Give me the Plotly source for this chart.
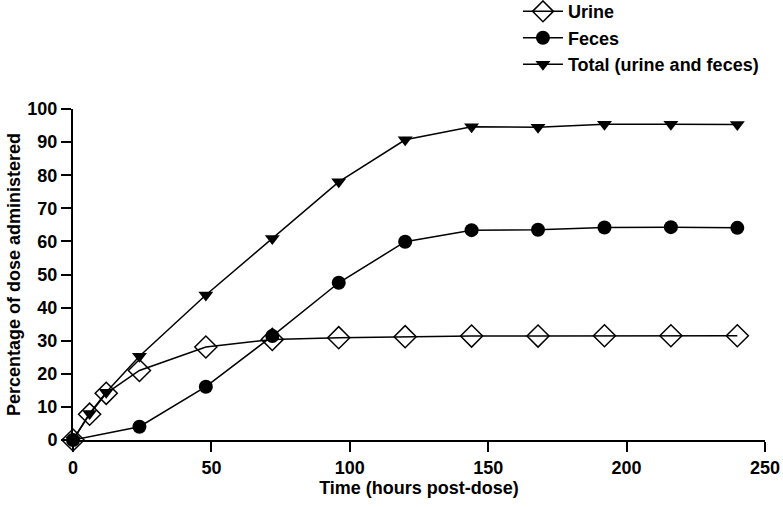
import plotly.graph_objects as go

time_urine = [0, 6, 12, 24, 48, 72, 96, 120, 144, 168, 192, 216, 240]
urine = [0, 7.8, 14.1, 21.0, 28.1, 30.4, 30.9, 31.2, 31.4, 31.4, 31.5, 31.5, 31.5]

time_feces = [0, 24, 48, 72, 96, 120, 144, 168, 192, 216, 240]
feces = [0, 4.0, 16.1, 31.4, 47.5, 59.9, 63.4, 63.5, 64.2, 64.3, 64.1]

time_total = [0, 6, 12, 24, 48, 72, 96, 120, 144, 168, 192, 216, 240]
total = [0, 8.0, 14.4, 25.3, 43.8, 60.9, 78.0, 90.7, 94.6, 94.5, 95.4, 95.4, 95.3]

x_ticks = [0, 50, 100, 150, 200, 250]
y_ticks = [0, 10, 20, 30, 40, 50, 60, 70, 80, 90, 100]

FONT = "Liberation Sans, Arial, sans-serif"

fig = go.Figure()
fig.add_trace(go.Scatter(
    x=time_urine, y=urine, name="Urine", mode="lines+markers",
    line=dict(color="black", width=1.5),
    marker=dict(symbol="diamond-open", size=17, color="black", line=dict(width=1.5)),
    cliponaxis=False))
fig.add_trace(go.Scatter(
    x=time_feces, y=feces, name="Feces", mode="lines+markers",
    line=dict(color="black", width=1.5),
    marker=dict(symbol="circle", size=14, color="black"),
    cliponaxis=False))
fig.add_trace(go.Scatter(
    x=time_total, y=total, name="Total (urine and feces)", mode="lines+markers",
    line=dict(color="black", width=1.5),
    marker=dict(symbol="triangle-down", size=13, color="black"),
    cliponaxis=False))

axis_common = dict(
    showgrid=False, zeroline=False, showline=True, linecolor="black", linewidth=2,
    ticks="outside", ticklen=10, tickwidth=1.5, tickcolor="black",
    tickfont=dict(family=FONT, size=18, color="black", weight="bold"),
)

fig.update_layout(
    width=783, height=507,
    margin=dict(l=73, r=18, t=109, b=67, autoexpand=False),
    paper_bgcolor="white", plot_bgcolor="white",
    font=dict(family=FONT, color="black"),
    xaxis=dict(range=[0, 250], tickvals=x_ticks, **axis_common,
               title=dict(text="<b>Time (hours post-dose)</b>",
                          font=dict(family=FONT, size=18, color="black"), standoff=3)),
    yaxis=dict(range=[0, 100], tickvals=y_ticks, **axis_common,
               title=dict(text="<b>Percentage of dose administered</b>",
                          font=dict(family=FONT, size=18, color="black"), standoff=2)),
    legend=dict(x=0.643, y=1.35, xanchor="left", yanchor="top", itemwidth=40,
                font=dict(family=FONT, size=18, color="black", weight="bold"),
                bgcolor="rgba(0,0,0,0)"),
)

fig.write_html("out.html", config={"displayModeBar": False},
               post_script="document.body.style.margin='0';")
